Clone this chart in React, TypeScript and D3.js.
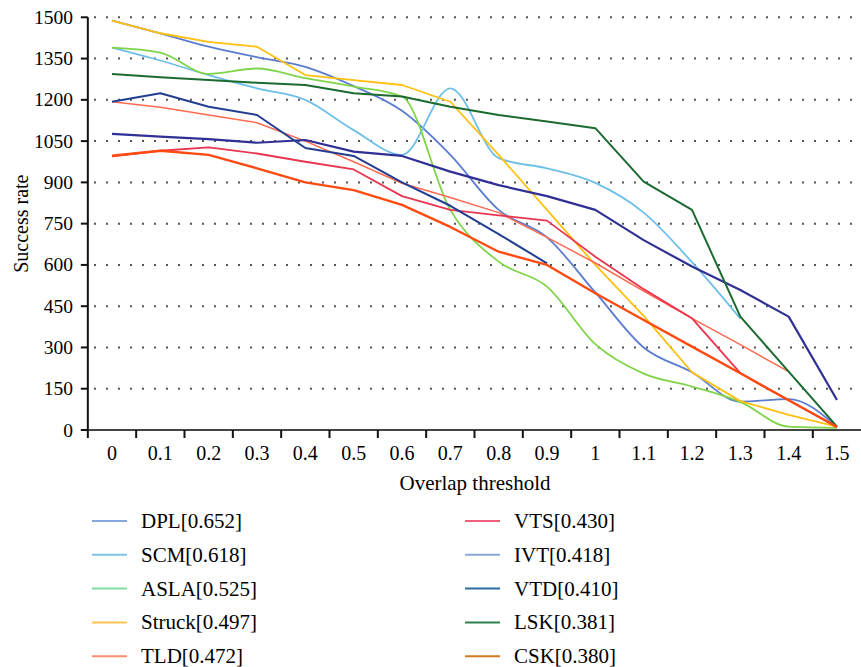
import * as d3 from "d3";

// overlap thresholds on the x axis
const thresholds = [0, 0.1, 0.2, 0.3, 0.4, 0.5, 0.6, 0.7, 0.8, 0.9, 1, 1.1, 1.2, 1.3, 1.4, 1.5];
const xTickLabels = ["0", "0.1", "0.2", "0.3", "0.4", "0.5", "0.6", "0.7", "0.8", "0.9", "1", "1.1", "1.2", "1.3", "1.4", "1.5"];
const yTicks = [0, 150, 300, 450, 600, 750, 900, 1050, 1200, 1350, 1500];

// success rate per threshold (null = not plotted)
const DPL = [1488, 1442, 1393, 1355, 1320, 1250, 1160, 1000, 800, 700, 500, 300, 210, 103, 112, 12];
const SCM = [1390, 1343, 1290, 1242, 1200, 1090, 1000, 1242, 988, 951, 898, 790, 610, 405, null, null];
const ASLA = [1390, 1372, 1294, 1314, 1279, 1248, 1212, 800, 612, 521, 312, 205, 158, 102, 12, 8];
const Struck = [1488, 1442, 1411, 1393, 1290, 1272, 1254, 1193, 1000, 800, 600, 415, 210, 105, 55, 12];
const TLD = [1193, 1173, 1145, 1117, 1050, 975, 897, 845, 790, 700, 607, 505, 406, 310, 212, null];
const VTS = [995, 1015, 1027, 1005, 975, 947, 850, 800, 780, 761, 630, 512, 406, 207, 108, 10];
const IVT = [1076, 1066, 1057, 1044, 1054, 1012, 996, 939, 890, 850, 800, 690, 594, 509, 412, 109];
const VTD = [1193, 1224, 1175, 1145, 1025, 996, 900, 815, 712, 606, null, null, null, null, null, null];
const LSK = [1294, 1282, 1272, 1262, 1254, 1224, 1212, 1175, 1145, 1121, 1097, 903, 800, 412, 212, 12];
const CSK = [997, 1015, 1000, 951, 900, 872, 818, 738, 648, 600, 497, 400, 303, 206, 108, 12];

const series = [
  { name: "DPL[0.652]", values: DPL, color: "#5b7dd0", legend: "#86a8dc", width: 1.8, smooth: true },
  { name: "SCM[0.618]", values: SCM, color: "#6fc0e8", legend: "#7cc2e6", width: 1.8, smooth: true },
  { name: "ASLA[0.525]", values: ASLA, color: "#7fd44a", legend: "#80dca0", width: 1.8, smooth: true },
  { name: "Struck[0.497]", values: Struck, color: "#ffc010", legend: "#ffc454", width: 1.8, smooth: false },
  { name: "TLD[0.472]", values: TLD, color: "#ff6a50", legend: "#ff8c6c", width: 1.5, smooth: false },
  { name: "VTS[0.430]", values: VTS, color: "#ea3550", legend: "#f0607a", width: 1.8, smooth: false },
  { name: "IVT[0.418]", values: IVT, color: "#302f96", legend: "#8aa6d6", width: 2.2, smooth: false },
  { name: "VTD[0.410]", values: VTD, color: "#223e90", legend: "#2c6ca0", width: 2, smooth: false },
  { name: "LSK[0.381]", values: LSK, color: "#1b6a30", legend: "#2e8050", width: 2, smooth: false },
  { name: "CSK[0.380]", values: CSK, color: "#ff4a10", legend: "#d07a20", width: 2.4, smooth: false },
];

const WIDTH = 861;
const HEIGHT = 667;
const FONT = "'Liberation Serif', 'Times New Roman', serif";

export default function App() {
  const x = d3.scaleLinear().domain([0, 1.5]).range([112, 837]);
  const y = d3.scaleLinear().domain([0, 1500]).range([430, 17.3]);
  const step = x(0.1) - x(0);
  const band = d3
    .scaleBand()
    .domain(xTickLabels)
    .range([x(0) - step / 2, x(1.5) + step / 2]);

  const axisX = x(0) - step / 2;
  const baseY = y(0);

  const lines = series.map((s) => {
    const gen = d3
      .line<number | null>()
      .defined((d) => d !== null)
      .x((_, i) => x(thresholds[i]))
      .y((d) => y(d as number))
      .curve(s.smooth ? d3.curveMonotoneX : d3.curveLinear);
    return (
      <path
        key={s.name}
        d={gen(s.values) || ""}
        fill="none"
        stroke={s.color}
        strokeWidth={s.width}
        strokeLinejoin="round"
      />
    );
  });

  const legendRows = 5;
  const legend = series.map((s, i) => {
    const col = Math.floor(i / legendRows);
    const row = i % legendRows;
    const lx = col === 0 ? 92 : 465;
    const ly = 521 + row * 33.8;
    return (
      <g key={s.name}>
        <line x1={lx} x2={lx + 35} y1={ly} y2={ly} stroke={s.legend} strokeWidth={2} />
        <text x={lx + 49} y={ly} dominantBaseline="central" fontSize={21}>
          {s.name}
        </text>
      </g>
    );
  });

  return (
    <svg
      width={WIDTH}
      height={HEIGHT}
      style={{ position: "absolute", left: 0, top: 0, background: "white" }}
      fontFamily={FONT}
    >
      {/* dotted gridlines */}
      {yTicks
        .filter((t) => t > 0)
        .map((t) => (
          <line
            key={t}
            x1={94}
            x2={856}
            y1={y(t)}
            y2={y(t)}
            stroke="#555"
            strokeWidth={2}
            strokeDasharray="2 10"
          />
        ))}

      {lines}

      {/* y axis */}
      <line x1={axisX} x2={axisX} y1={y(1500)} y2={baseY} stroke="#111" strokeWidth={2} />
      {yTicks.map((t) => (
        <g key={t}>
          <line x1={axisX - 7} x2={axisX} y1={y(t)} y2={y(t)} stroke="#111" strokeWidth={2} />
          <text x={73} y={y(t)} textAnchor="end" dominantBaseline="central" fontSize={19.5}>
            {t}
          </text>
        </g>
      ))}
      <text
        transform={`translate(21, ${y(750)}) rotate(-90)`}
        textAnchor="middle"
        dominantBaseline="central"
        fontSize={20}
      >
        Success rate
      </text>

      {/* x axis */}
      <line x1={axisX} x2={WIDTH} y1={baseY} y2={baseY} stroke="#444" strokeWidth={2} />
      {xTickLabels.map((lbl) => (
        <g key={lbl}>
          <line
            x1={band(lbl) as number}
            x2={band(lbl) as number}
            y1={baseY}
            y2={baseY + 8}
            stroke="#111"
            strokeWidth={2}
          />
          <text
            x={(band(lbl) as number) + band.bandwidth() / 2}
            y={453}
            textAnchor="middle"
            dominantBaseline="central"
            fontSize={20}
          >
            {lbl}
          </text>
        </g>
      ))}
      <text x={475} y={483} textAnchor="middle" dominantBaseline="central" fontSize={21}>
        Overlap threshold
      </text>

      {legend}
    </svg>
  );
}
